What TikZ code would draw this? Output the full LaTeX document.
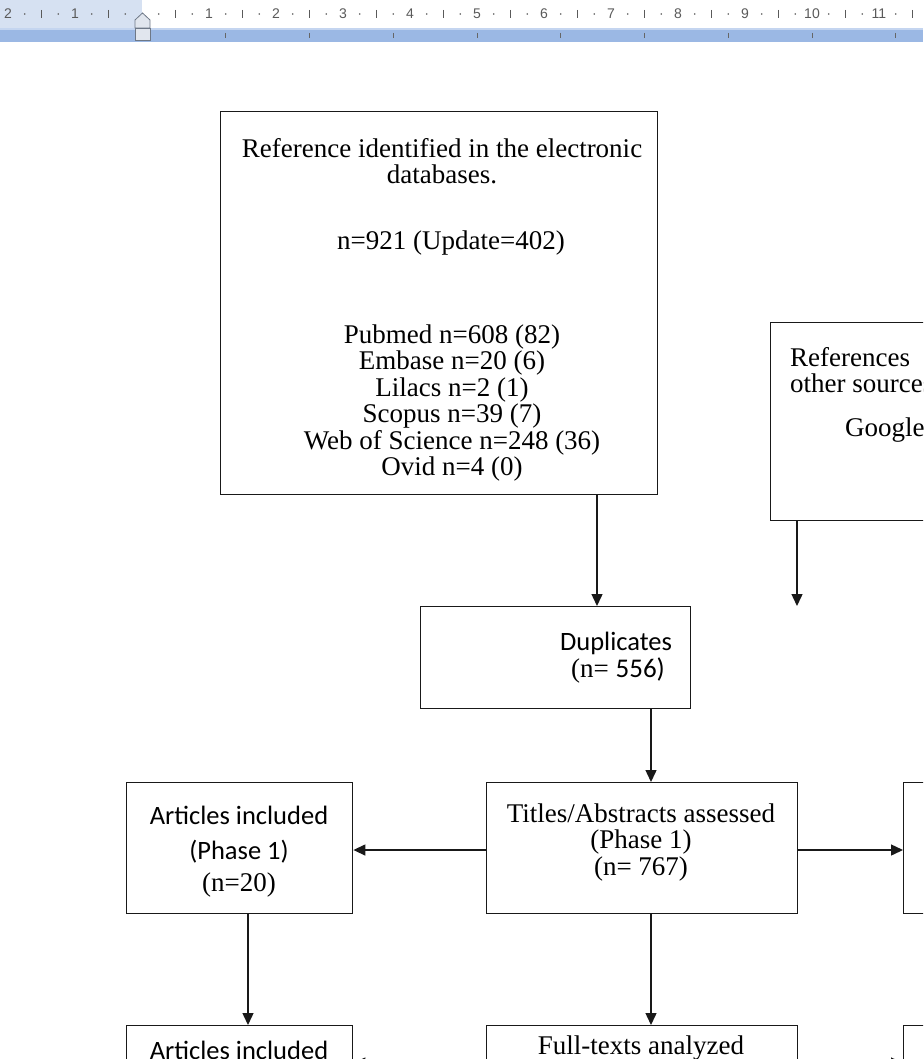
\documentclass[tikz,border=0pt]{standalone}
\usepackage{fontspec}
\setmainfont{Liberation Serif}
\newfontfamily\calfont{Carlito}
\newfontfamily\rulerfont{Liberation Sans}
\usetikzlibrary{arrows.meta}
\definecolor{rulerblue}{RGB}{155,184,228}
\definecolor{rulertop}{RGB}{196,213,240}
\definecolor{rulerleft}{RGB}{214,225,242}
\definecolor{rulertext}{RGB}{90,90,90}
\definecolor{markerfill}{RGB}{225,230,238}
\definecolor{markerdraw}{RGB}{110,120,135}
\definecolor{linecol}{RGB}{25,25,25}
\begin{document}
\begin{tikzpicture}[x=1pt,y=1pt,
  box/.style={draw=linecol, line width=1.4pt, anchor=north west, inner sep=0pt},
  arr/.style={draw=linecol, line width=1.4pt, -{Triangle[length=12pt,width=11pt]}},
  stxt/.style={inner sep=0pt, align=center, font=\fontsize{27}{26.5}\selectfont},
  ctxt/.style={inner sep=0pt, align=center, font=\calfont\fontsize{26.5}{26.5}\selectfont},
  rnum/.style={inner sep=0pt, text=rulertext, font=\rulerfont\fontsize{14}{14}\selectfont}]
\useasboundingbox (0,0) rectangle (923,-1059);
\clip (0,0) rectangle (923,-1059);
\fill[white] (0,0) rectangle (923,-1059);
% ---------------- ruler
\fill[rulerleft] (0,0) rectangle (142,-28);
\fill[rulerblue] (0,-28) rectangle (923,-42);
\draw[rulertop, line width=1.5pt] (0,-29) -- (923,-29);
\foreach \k/\l in {-2/2,-1/1,1/1,2/2,3/3,4/4,5/5,6/6,7/7,8/8,9/9,10/10,11/11}
  \node[rnum] (rn\k) at ({142+67*\k},-14) {\l};
\foreach \j in {-7,-5,...,47}
  \fill[rulertext] ({142+16.75*\j},-14) circle (0.9);
\foreach \j in {-6,-2,...,46}
  \draw[rulertext, line width=0.8pt] ({142+16.75*\j},-10) -- ++(0,-8);
\foreach \j in {1,...,10}
  \draw[black!60, line width=0.8pt] ({142+83.75*\j},-33) -- ++(0,-5);
\filldraw[fill=markerfill, draw=markerdraw, line width=0.8pt]
  (135,-28) -- (135,-20) -- (142.5,-13) -- (150,-20) -- (150,-28) -- cycle;
\filldraw[fill=markerfill, draw=markerdraw, line width=0.8pt] (135,-28) rectangle (150,-40);
% ---------------- boxes
\node[box, minimum width=437pt, minimum height=383pt] (db) at (220,-111) {};
\node[box, minimum width=200pt, minimum height=198pt] (oth) at (770,-322) {};
\node[box, minimum width=270pt, minimum height=102pt] (dup) at (420,-606) {};
\node[box, minimum width=311pt, minimum height=131pt] (ta) at (486,-782) {};
\node[box, minimum width=226pt, minimum height=131pt] (ai1) at (126,-782) {};
\node[box, minimum width=100pt, minimum height=131pt] (rb1) at (903,-782) {};
\node[box, minimum width=226pt, minimum height=131pt] (ai2) at (126,-1025) {};
\node[box, minimum width=311pt, minimum height=131pt] (ft) at (486,-1025) {};
\node[box, minimum width=100pt, minimum height=131pt] (rb2) at (903,-1025) {};
% ---------------- texts
\node[stxt] (dbt) at (442,-161) {Reference identified in the electronic\\databases.};
\node[stxt] (dbn) at (451,-243) {n=921 (Update=402)};
\node[stxt] (dbl) at (452,-403) {Pubmed n=608 (82)\\Embase n=20 (6)\\Lilacs n=2 (1)\\Scopus n=39 (7)\\Web of Science n=248 (36)\\Ovid n=4 (0)};
\node[stxt, anchor=west] (otha) at (790,-357) {References};
\node[stxt, anchor=west] (othb) at (790,-383) {other sources};
\node[stxt, anchor=west] (othc) at (845,-430) {Google};
\node[ctxt] (dupa) at (616,-643) {Duplicates};
\node[stxt] (dupb) at (618,-670) {(n= \calfont 556)};
\node[stxt] (tat) at (641,-842) {Titles/Abstracts assessed\\(Phase 1)\\(n= 767)};
\node[ctxt] (ai1a) at (239,-815) {Articles included};
\node[ctxt] (ai1b) at (239,-852) {(Phase 1)};
\node[stxt] (ai1c) at (239,-885) {(n=20)};
\node[ctxt] (ai2a) at (239,-1050) {Articles included};
\node[stxt] (fta) at (641,-1048) {Full-texts analyzed};
\node[stxt] (ftb) at (641,-1074) {(Phase 2)};
% ---------------- connectors
\coordinate (xa) at (597,0);
\coordinate (xb) at (797,0);
\coordinate (xc) at (651,0);
\coordinate (xe) at (248,0);
\coordinate (ya) at (0,-850);
\coordinate (yb) at (0,-1063);
\draw[arr] (db.south -| xa) -- (dup.north -| xa);
\draw[arr] (oth.south -| xb) -- (dup.north -| xb);
\draw[arr] (dup.south -| xc) -- (ta.north -| xc);
\draw[arr] (ta.west |- ya) -- (ai1.east |- ya);
\draw[arr] (ta.east |- ya) -- (rb1.west |- ya);
\draw[arr] (ta.south -| xc) -- (ft.north -| xc);
\draw[arr] (ai1.south -| xe) -- (ai2.north -| xe);
\draw[arr] (ft.west |- yb) -- (ai2.east |- yb);
\draw[arr] (ft.east |- yb) -- (rb2.west |- yb);
\end{tikzpicture}
\end{document}
